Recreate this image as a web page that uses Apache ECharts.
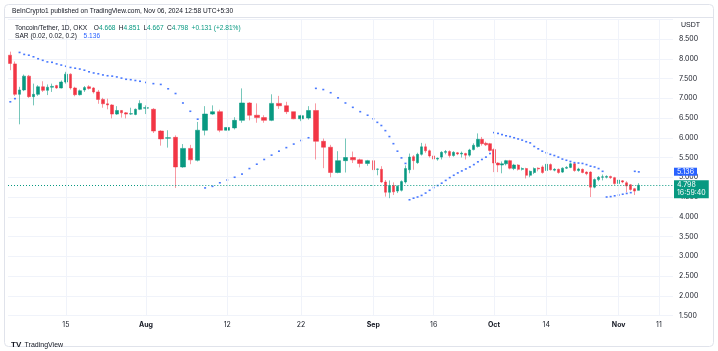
<!DOCTYPE html>
<html>
<head>
<meta charset="utf-8">
<script src="https://cdn.jsdelivr.net/npm/echarts@6.0.0/dist/echarts.min.js"></script>
<style>
  html, body { margin: 0; padding: 0; background: #fff; }
  #main { width: 718px; height: 351px; }
</style>
</head>
<body>
<div id="main"></div>
<script>
// daily candles TON/USDT (OKX), 2024-07-03 .. 2024-11-06
var opens = [8.09, 7.87, 7.10, 7.21, 7.56, 7.04, 7.10, 7.29, 7.20, 7.28, 7.32, 7.26, 7.41, 7.61, 7.26, 7.09, 7.21, 7.29, 7.26, 7.16,
  6.97, 6.86, 6.83, 6.60, 6.69, 6.63, 6.60, 6.59, 6.72, 6.75, 6.72, 6.17, 5.99, 6.01, 5.26, 5.73, 5.43, 6.19, 6.60, 6.66,
  6.19, 6.25, 6.44, 6.88, 6.57, 6.51, 6.44, 6.87, 6.81, 6.66, 6.48, 6.50, 6.69, 5.91, 5.76, 5.12, 5.42, 5.50, 5.44, 5.35,
  5.42, 5.20, 5.20, 4.88, 4.62, 4.79, 4.65, 4.67, 4.88, 5.19, 5.52, 5.37, 5.58, 5.77, 5.67, 5.54, 5.46, 5.51, 5.63, 5.65,
  5.55, 5.62, 5.59, 5.60, 5.56, 5.70, 5.78, 5.96, 5.86, 5.85, 5.70, 5.36, 5.31, 5.34, 5.42, 5.22, 5.31, 5.20, 5.22, 5.05,
  5.12, 5.23, 5.26, 5.17, 5.32, 5.18, 5.20, 5.13, 5.23, 5.25, 5.34, 5.17, 5.20, 5.13, 5.13, 4.75, 4.94, 5.00, 5.00, 5.02,
  4.99, 4.84, 4.91, 4.86, 4.81, 4.71, 4.668]
var closes = [7.88, 7.10, 7.21, 7.56, 7.04, 7.10, 7.29, 7.20, 7.28, 7.30, 7.26, 7.41, 7.61, 7.26, 7.09, 7.19, 7.27, 7.25, 7.16, 6.97,
  6.86, 6.83, 6.60, 6.69, 6.63, 6.60, 6.61, 6.72, 6.87, 6.76, 6.17, 5.97, 6.00, 5.26, 5.73, 5.44, 6.19, 6.60, 6.66, 6.19,
  6.26, 6.44, 6.88, 6.57, 6.51, 6.44, 6.87, 6.81, 6.66, 6.48, 6.56, 6.69, 5.91, 5.76, 5.12, 5.42, 5.50, 5.44, 5.35, 5.42,
  5.19, 5.21, 4.88, 4.62, 4.79, 4.63, 4.77, 4.89, 5.22, 5.51, 5.42, 5.58, 5.77, 5.67, 5.54, 5.46, 5.48, 5.63, 5.65, 5.55,
  5.63, 5.59, 5.61, 5.56, 5.69, 5.81, 5.96, 5.85, 5.82, 5.68, 5.36, 5.31, 5.34, 5.42, 5.23, 5.31, 5.20, 5.22, 5.05, 5.15,
  5.22, 5.21, 5.12, 5.33, 5.19, 5.20, 5.12, 5.23, 5.25, 5.34, 5.17, 5.21, 5.12, 5.09, 4.75, 4.94, 5.00, 5.01, 5.02, 4.99,
  4.84, 4.93, 4.88, 4.78, 4.69, 4.65, 4.798]
var lows = [7.71, 7.06, 6.34, 7.18, 7.01, 6.82, 7.06, 7.16, 7.08, 7.16, 7.24, 7.25, 7.37, 7.22, 7.05, 7.07, 7.16, 7.22, 7.12, 6.86,
  6.76, 6.72, 6.49, 6.58, 6.51, 6.49, 6.58, 6.57, 6.70, 6.60, 6.12, 5.80, 5.75, 4.73, 5.24, 5.33, 5.40, 6.06, 6.58, 6.14,
  6.05, 6.21, 6.38, 6.44, 6.38, 6.38, 6.42, 6.73, 6.60, 6.47, 6.42, 6.46, 5.45, 5.23, 5.00, 5.10, 5.12, 5.36, 5.25, 5.29,
  5.15, 5.05, 4.86, 4.51, 4.47, 4.55, 4.60, 4.64, 4.84, 5.10, 5.19, 5.34, 5.55, 5.62, 5.50, 5.35, 5.42, 5.45, 5.58, 5.50,
  5.52, 5.56, 5.50, 5.45, 5.52, 5.68, 5.75, 5.80, 5.79, 5.65, 5.13, 5.13, 5.10, 5.30, 5.20, 5.18, 5.17, 5.17, 4.97, 5.00,
  5.08, 5.15, 5.09, 5.15, 5.17, 5.15, 5.09, 5.11, 5.21, 5.23, 5.14, 5.14, 5.10, 5.05, 4.50, 4.72, 4.90, 4.92, 4.97, 4.96,
  4.81, 4.80, 4.85, 4.62, 4.66, 4.55, 4.667]
var highs = [8.18, 7.93, 7.29, 7.60, 7.59, 7.37, 7.33, 7.43, 7.35, 7.37, 7.34, 7.45, 7.67, 7.63, 7.29, 7.22, 7.31, 7.33, 7.28, 7.21,
  7.01, 6.99, 6.85, 6.80, 6.70, 6.65, 6.76, 6.74, 6.95, 6.82, 6.75, 6.19, 6.19, 6.06, 5.84, 5.82, 6.40, 6.80, 6.82, 6.71,
  6.61, 6.52, 7.25, 6.90, 6.87, 6.57, 7.10, 7.06, 6.91, 6.66, 6.58, 6.80, 6.87, 5.98, 5.82, 5.66, 5.98, 5.65, 5.47, 5.44,
  5.47, 5.22, 5.28, 4.93, 4.92, 4.87, 4.80, 4.92, 5.30, 5.60, 5.56, 5.62, 5.87, 5.85, 5.70, 5.58, 5.50, 5.66, 5.69, 5.68,
  5.66, 5.64, 5.65, 5.62, 5.72, 5.86, 6.11, 6.02, 5.90, 5.87, 5.73, 5.38, 5.40, 5.44, 5.44, 5.34, 5.33, 5.25, 5.24, 5.17,
  5.25, 5.25, 5.30, 5.36, 5.35, 5.23, 5.22, 5.25, 5.28, 5.37, 5.36, 5.24, 5.22, 5.15, 5.15, 4.97, 5.03, 5.07, 5.05, 5.04,
  5.01, 4.95, 4.93, 4.90, 4.83, 4.73, 4.851]
// Parabolic SAR (0.02, 0.02, 0.2)
var sar = [6.91, 6.99, 8.16, 8.11, 8.09, 8.05, 8.00, 7.96, 7.92, 7.91, 7.87, 7.84, 7.81, 7.78, 7.76, 7.74, 7.71, 7.67, 7.64, 7.62,
  7.59, 7.57, 7.56, 7.54, 7.51, 7.48, 7.47, 7.45, 7.43, 7.40, 7.37, 7.35, 7.24, 7.12, 6.88, 6.67, 6.47, 4.73, 4.77, 4.86,
  4.93, 5.00, 5.08, 5.22, 5.33, 5.45, 5.56, 5.66, 5.75, 5.84, 5.93, 6.00, 7.25, 7.22, 7.14, 7.01, 6.88, 6.77, 6.66, 6.57,
  6.48, 6.39, 6.31, 6.18, 6.03, 5.85, 5.66, 5.49, 5.35, 4.43, 4.47, 4.50, 4.54, 4.60, 4.67, 4.74, 4.79, 4.85, 4.92, 4.99,
  5.05, 5.11, 5.16, 5.21, 5.26, 5.32, 5.39, 5.45, 5.51, 5.60, 6.13, 6.11, 6.08, 6.05, 6.03, 6.00, 5.97, 5.94, 5.90, 5.87,
  5.78, 5.72, 5.66, 5.62, 5.58, 5.55, 5.51, 5.46, 5.43, 5.40, 5.37, 5.36, 5.35, 5.32, 5.28, 5.26, 5.22, 5.15, 4.50, 4.51,
  4.53, 4.55, 4.57, 4.59, 4.61, 5.15, 5.136]
var tickLabels = [['2024-07-15', '15'], ['2024-08-01', 'Aug'], ['2024-08-12', '12'], ['2024-08-22', '22'], ['2024-09-01', 'Sep'],
  ['2024-09-16', '16'], ['2024-10-01', 'Oct'], ['2024-10-14', '14'], ['2024-11-01', 'Nov'], ['2024-11-11', '11']]
var priceTicks = ['8.500', '8.000', '7.500', '7.000', '6.500', '6.000', '5.500', '5.000', '4.500', '4.000', '3.500', '3.000', '2.500', '2.000', '1.500']

var lastClose = 4.798
var lastSar = 5.136
var UP = '#089981'
var DOWN = '#F23645'
var SARBLUE = '#2962FF'

// category dates, one per day (axis runs a week past the last candle)
var dates = []
var d0 = Date.UTC(2024, 6, 3)
for (var i = 0; i < 135; i++) {
  dates.push(new Date(d0 + i * 86400000).toISOString().slice(0, 10))
}
var labelMap = {}
tickLabels.forEach(function (t) { labelMap[t[0]] = t[1] })

var candles = opens.map(function (o, i) { return [o, closes[i], lows[i], highs[i]] })

// the snapshot is stretched in August, so the time scale is split into three panes
var segs = [
  { from: 0, to: 29, left: 8, width: 134.3 },
  { from: 29, to: 60, left: 142.3, width: 229 },
  { from: 60, to: 135, left: 371.3, width: 301.7 }
]

var grids = []
var xAxes = []
var yAxes = []
var series = []

segs.forEach(function (s, k) {
  var last = k === segs.length - 1
  var segDates = dates.slice(s.from, s.to)
  grids.push({ left: s.left, width: s.width, top: 19.25, bottom: 35.5 })
  xAxes.push({
    gridIndex: k,
    type: 'category',
    data: segDates,
    axisLine: { show: false },
    axisTick: { show: false },
    splitLine: { show: false },
    axisLabel: {
      interval: function (idx, val) { return !!labelMap[val] },
      formatter: function (val) {
        var t = labelMap[val]
        return /^[A-Z]/.test(t) ? '{b|' + t + '}' : t
      },
      rich: { b: { fontWeight: 'bold', fontSize: 7, color: '#131722' } },
      fontSize: 7,
      color: '#131722',
      margin: 6
    }
  })
  yAxes.push({
    gridIndex: k,
    type: 'value',
    position: 'right',
    min: 1.5,
    max: 9,
    interval: 0.5,
    axisLine: { show: false },
    axisTick: { show: false },
    splitLine: { lineStyle: { color: '#f0f3fa', width: 1 } },
    axisLabel: {
      show: last,
      margin: 6,
      fontSize: 7,
      color: '#131722',
      formatter: function (v) {
        var t = v.toFixed(3)
        return priceTicks.indexOf(t) >= 0 ? t : ''
      }
    }
  })

  var lines = segDates.filter(function (dd) { return labelMap[dd] }).map(function (dd) {
    return { xAxis: dd, lineStyle: { color: '#f0f3fa', type: 'solid', width: 1 } }
  })
  var priceLine = { yAxis: lastClose, lineStyle: { color: UP, type: [1, 2], width: 1 } }
  lines.push(priceLine)
  if (last) {
    priceLine.label = {
      show: true,
      position: 'end',
      formatter: lastClose.toFixed(3) + '\n16:59:40',
      backgroundColor: UP,
      color: '#fff',
      fontSize: 7,
      lineHeight: 8,
      padding: [1, 3, 1, 3],
      distance: 1,
      offset: [0, 4]
    }
    lines.push({
      yAxis: lastSar,
      lineStyle: { color: 'rgba(0,0,0,0)', width: 0 },
      label: {
        show: true,
        position: 'end',
        formatter: lastSar.toFixed(3),
        backgroundColor: SARBLUE,
        color: '#fff',
        fontSize: 7,
        lineHeight: 8,
        padding: [0, 3, 0, 3],
        distance: 1
      }
    })
  }

  series.push({
    type: 'candlestick',
    xAxisIndex: k,
    yAxisIndex: k,
    data: candles.slice(s.from, s.to),
    barWidth: '68%',
    itemStyle: {
      color: UP,
      color0: DOWN,
      borderColor: 'rgba(8,153,129,0.55)',
      borderColor0: 'rgba(242,54,69,0.5)',
      borderWidth: 1
    },
    markLine: {
      silent: true,
      symbol: ['none', 'none'],
      label: { show: false },
      animation: false,
      data: lines
    }
  })

  series.push({
    type: 'scatter',
    xAxisIndex: k,
    yAxisIndex: k,
    symbol: 'rect',
    symbolSize: [2, 1.6],
    itemStyle: { color: SARBLUE, opacity: 0.85 },
    data: sar.slice(s.from, s.to).map(function (v, j) { return [dates[s.from + j], v] })
  })
})

var chart = echarts.init(document.getElementById('main'))
chart.setOption({
  animation: false,
  backgroundColor: '#fff',
  textStyle: { fontFamily: 'Inter, "Noto Sans", sans-serif' },
  grid: grids,
  xAxis: xAxes,
  yAxis: yAxes,
  series: series,
  graphic: [
    { type: 'rect', z: 0, shape: { x: 4.5, y: 4.5, width: 709, height: 342, r: 4 }, style: { fill: 'none', stroke: '#e0e3eb' }, silent: true },
    { type: 'line', z: 0, shape: { x1: 5, y1: 17.5, x2: 713, y2: 17.5 }, style: { stroke: '#e0e3eb' }, silent: true },
    { type: 'text', z: 100, left: 12, top: 8, style: { text: 'BeInCrypto1 published on TradingView.com, Nov 06, 2024 12:58 UTC+5:30', fontSize: 6.6, fill: '#131722' } },
    {
      type: 'text', z: 100, left: 15, top: 22,
      style: {
        text: '{n|Toncoin/Tether, 1D, OKX}  {n|O}{g|4.668} {n|H}{g|4.851} {n|L}{g|4.667} {n|C}{g|4.798} {g|+0.131 (+2.81%)}',
        rich: { n: { fontSize: 6.6, fill: '#131722' }, g: { fontSize: 6.6, fill: UP } }
      }
    },
    {
      type: 'text', z: 100, left: 15, top: 30,
      style: {
        text: '{n|SAR (0.02, 0.02, 0.2)}  {b|5.136}',
        rich: { n: { fontSize: 6.6, fill: '#131722' }, b: { fontSize: 6.6, fill: SARBLUE } }
      }
    },
    { type: 'text', z: 100, left: 681, top: 22, style: { text: 'USDT', fontSize: 7, fill: '#131722' } },
    {
      type: 'text', z: 100, left: 11, top: 339,
      style: {
        text: '{l|TV} {t|TradingView}',
        rich: { l: { fontSize: 8, fontWeight: 'bold', fill: '#131722' }, t: { fontSize: 7, fill: '#131722' } }
      }
    }
  ]
})
</script>
</body>
</html>
